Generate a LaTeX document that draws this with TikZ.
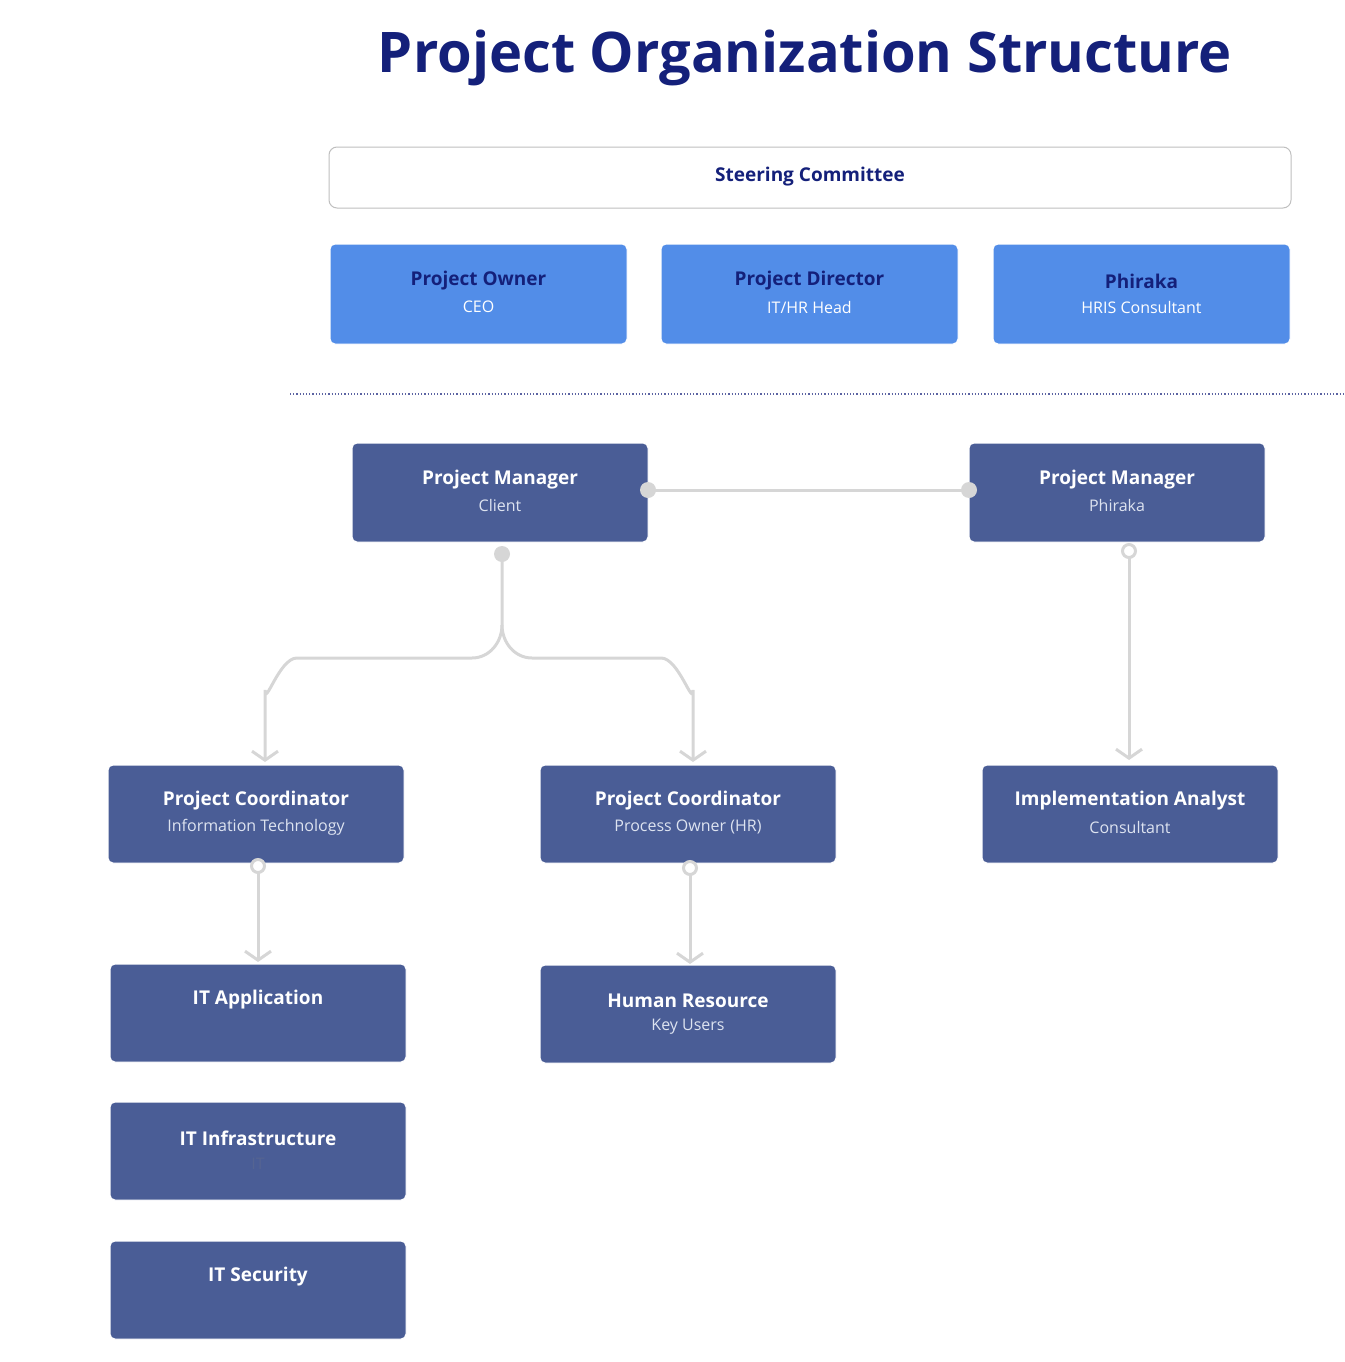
\documentclass[tikz,border=0pt]{standalone}
\usepackage{fontspec}
\setmainfont{Open Sans}
\usetikzlibrary{arrows.meta}
\definecolor{navy}{HTML}{14207A}
\definecolor{lblue}{HTML}{528DE8}
\definecolor{dblue}{HTML}{4A5D96}
\definecolor{conn}{HTML}{D6D6D6}
\definecolor{sub}{HTML}{DDE3F0}
\begin{document}
\begin{tikzpicture}[x=1pt,y=-1pt,
 box/.style={rounded corners=5pt,draw=white,line width=1pt},
 top/.style={box,fill=lblue},
 low/.style={box,fill=dblue},
 ttl/.style={font=\fontsize{19}{22}\selectfont\bfseries},
 sbt/.style={font=\fontsize{16}{19}\selectfont},
 ln/.style={draw=conn,line width=3pt},
 arr/.style={ln,-{Straight Barb[length=9pt,width=26pt,line width=3pt]}},
 dot/.style={circle,fill=conn,inner sep=0,minimum size=16pt},
 odot/.style={circle,draw=conn,fill=white,line width=3pt,inner sep=0,minimum size=13pt}]
\useasboundingbox (0,0) rectangle (1344,1362);
\node[text=navy,font=\fontsize{56}{60}\selectfont\bfseries] (title) at (805,58) {Project Organization Structure};
\draw[rounded corners=8pt,draw=black!25,fill=white,line width=1pt] (329,147) rectangle (1291,208);
\node[text=navy,ttl] (sc) at (810,177) {Steering Committee};
\newcommand{\tbox}[8]{%
 \draw[#1] (#2,#3) rectangle (#4,#5);
 \node[#6,ttl] (#7a) at ({(#2+#4)/2},{(#3+#5)/2-13}) {\csname T#7\endcsname};
 \node[#8,sbt] (#7b) at ({(#2+#4)/2},{(#3+#5)/2+13}) {\csname S#7\endcsname};}
\def\Tpo{Project Owner}\def\Spo{CEO}
\def\Tpd{Project Director}\def\Spd{IT/HR Head}
\def\Tph{Phiraka}\def\Sph{HRIS Consultant}
\def\Tpmc{Project Manager}\def\Spmc{Client}
\def\Tpmp{Project Manager}\def\Spmp{Phiraka}
\def\Tpci{Project Coordinator}\def\Spci{Information Technology}
\def\Tpch{Project Coordinator}\def\Spch{Process Owner (HR)}
\def\Tia{Implementation Analyst}\def\Sia{Consultant}
\def\Thr{Human Resource}\def\Shr{Key Users}
\def\Tita{IT Application}\def\Sita{}
\def\Titi{IT Infrastructure}\def\Siti{IT}
\def\Tits{IT Security}\def\Sits{}
\tbox{top}{330}{244}{627}{344}{text=navy}{po}{text=white}
\tbox{top}{661}{244}{958}{344}{text=navy}{pd}{text=white}
\tbox{top}{993}{244}{1290}{344}{text=navy}{ph}{text=white}
\draw[navy!70,dotted,line width=1.2pt] (290,394) -- (1344,394);
\tbox{low}{352}{443}{648}{542}{text=white}{pmc}{text=sub}
\tbox{low}{969}{443}{1265}{542}{text=white}{pmp}{text=sub}
\tbox{low}{108}{765}{404}{863}{text=white}{pci}{text=sub}
\tbox{low}{540}{765}{836}{863}{text=white}{pch}{text=sub}
\tbox{low}{982}{765}{1278}{863}{text=white}{ia}{text=sub}
\tbox{low}{110}{964}{406}{1062}{text=white}{ita}{text=sub}
\tbox{low}{540}{965}{836}{1063}{text=white}{hr}{text=sub}
\tbox{low}{110}{1102}{406}{1200}{text=white}{iti}{text=dblue!80!gray}
\tbox{low}{110}{1241}{406}{1339}{text=white}{its}{text=sub}
% connectors
\coordinate (c1) at (648,490); \coordinate (c2) at (969,490);
\draw[ln] (c1) -- (c2);
\node[dot] (d1) at (c1) {}; \node[dot] (d2) at (c2) {};
\coordinate (s) at (502,554); \coordinate (aL) at (265,762); \coordinate (aR) at (693,762);
\draw[arr] (s) -- (502,625) to[out=-90,in=0] (472,658) -- (297,658) to[out=180,in=-90] (265,690) -- (aL);
\draw[arr] (502,625) to[out=-90,in=180] (532,658) -- (661,658) to[out=0,in=-90] (693,690) -- (aR);
\node[dot] (d3) at (s) {};
\coordinate (s2) at (1129,551); \coordinate (a2) at (1129,760);
\draw[arr] (s2) -- (a2); \node[odot] (o2) at (s2) {};
\coordinate (s3) at (258,866); \coordinate (a3) at (258,962);
\draw[arr] (s3) -- (a3); \node[odot] (o3) at (s3) {};
\coordinate (s4) at (690,868); \coordinate (a4) at (690,964);
\draw[arr] (s4) -- (a4); \node[odot] (o4) at (s4) {};
\end{tikzpicture}
\end{document}
